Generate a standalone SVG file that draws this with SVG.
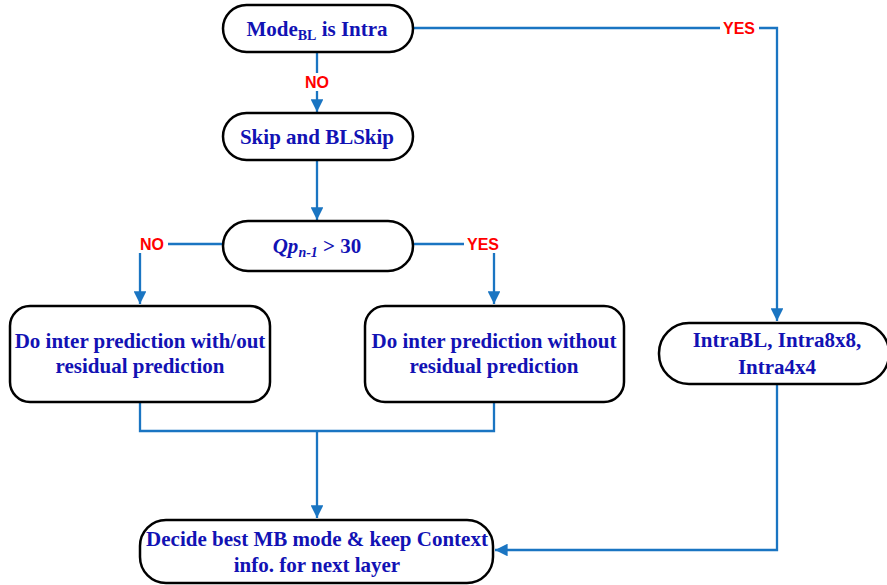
<svg xmlns="http://www.w3.org/2000/svg" width="887" height="585" viewBox="0 0 887 585">
  <defs>
    <marker id="arrow" viewBox="0 0 10 10" refX="10" refY="5" markerWidth="5.5" markerHeight="5.5" orient="auto" markerUnits="strokeWidth">
      <path d="M0,0 L10,5 L0,10 z" fill="#1a75c2"/>
    </marker>
    <style>
      .box { fill: #ffffff; stroke: #000000; stroke-width: 2.5; }
      .txt { font-family: "Liberation Serif", "Times New Roman", serif; font-weight: bold; font-size: 21px; fill: #1212b4; text-anchor: middle; }
      .lbl { font-family: "Liberation Sans", Arial, sans-serif; font-weight: bold; font-size: 16px; fill: #ff0000; text-anchor: middle; }
      .wire { fill: none; stroke: #1a75c2; stroke-width: 2.3; }
      .arr { marker-end: url(#arrow); }
    </style>
  </defs>
  <rect width="887" height="585" fill="#ffffff"/>

  <!-- connectors -->
  <g id="connectors">
    <path class="wire arr" d="M317,52 V112"/>
    <path class="wire arr" d="M317,160 V220"/>
    <path class="wire arr" d="M223,244 H140 V304"/>
    <path class="wire arr" d="M413,244 H494 V304"/>
    <path class="wire arr" d="M413,28 H777 V321"/>
    <path class="wire" d="M140,402 V431 H494 V402"/>
    <path class="wire arr" d="M317,431 V518"/>
    <path class="wire arr" d="M777,384 V550 H495"/>
    <!-- branch labels sit on white patches over the lines -->
    <rect x="301" y="73" width="32" height="18" fill="#ffffff"/>
    <text class="lbl" x="317" y="88">NO</text>
    <rect x="136" y="235" width="32" height="18" fill="#ffffff"/>
    <text class="lbl" x="152" y="250">NO</text>
    <rect x="464" y="235" width="39" height="18" fill="#ffffff"/>
    <text class="lbl" x="483" y="250">YES</text>
    <rect x="720" y="19" width="39" height="18" fill="#ffffff"/>
    <text class="lbl" x="739" y="34">YES</text>
  </g>

  <g id="mode-bl-intra">
    <rect class="box" x="223" y="5" width="190" height="47" rx="23.5"/>
    <text class="txt" x="317" y="36">Mode<tspan font-size="14px" dy="4">BL</tspan><tspan dy="-4"> is Intra</tspan></text>
  </g>

  <g id="skip-blskip">
    <rect class="box" x="223" y="113" width="190" height="47" rx="23.5"/>
    <text class="txt" x="317" y="144">Skip and BLSkip</text>
  </g>

  <g id="qp-test">
    <rect class="box" x="223" y="221" width="190" height="50" rx="25"/>
    <text class="txt" x="317" y="253"><tspan font-style="italic">Qp</tspan><tspan font-style="italic" font-size="14px" dy="4">n-1</tspan><tspan dy="-4"> &gt; 30</tspan></text>
  </g>

  <g id="inter-with-residual">
    <rect class="box" x="10" y="306" width="260" height="96" rx="20"/>
    <text class="txt" x="140" y="348">Do inter prediction with/out</text>
    <text class="txt" x="140" y="373">residual prediction</text>
  </g>

  <g id="inter-without-residual">
    <rect class="box" x="365" y="306" width="259" height="96" rx="20"/>
    <text class="txt" x="494" y="348">Do inter prediction without</text>
    <text class="txt" x="494" y="373">residual prediction</text>
  </g>

  <g id="intra-modes">
    <rect class="box" x="659" y="323" width="230" height="61" rx="30"/>
    <text class="txt" x="777" y="347">IntraBL, Intra8x8,</text>
    <text class="txt" x="777" y="374">Intra4x4</text>
  </g>

  <g id="decide-mode">
    <rect class="box" x="140" y="520" width="353" height="63" rx="26"/>
    <text class="txt" x="317" y="546">Decide best MB mode &amp; keep Context</text>
    <text class="txt" x="317" y="572">info. for next layer</text>
  </g>
</svg>
